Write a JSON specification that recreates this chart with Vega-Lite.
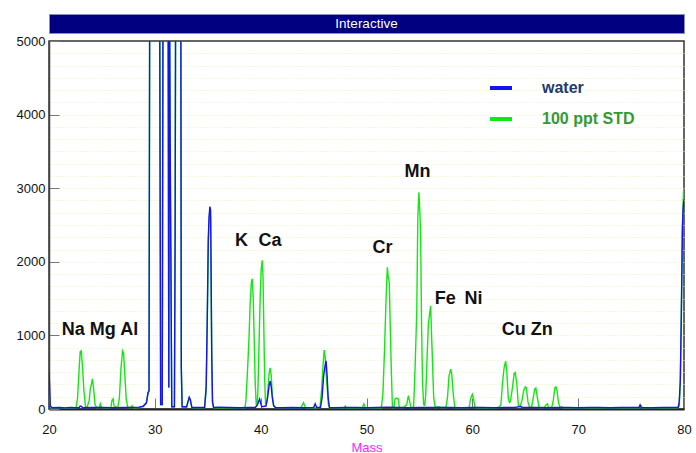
{
  "$schema": "https://vega.github.io/schema/vega-lite/v6.json",
  "padding": {"left": 15, "top": 13, "right": 11, "bottom": 0},
  "background": "white",
  "spacing": 0,
  "resolve": {"legend": {"color": "independent"}},
  "config": {"font": "Liberation Sans", "view": {"stroke": null}},
  "datasets": {
    "water": [
      {"mass":20.0,"intensity":490},{"mass":20.05,"intensity":350},{"mass":20.12,"intensity":40},{"mass":20.3,"intensity":18},{"mass":21.0,"intensity":20},{"mass":21.5,"intensity":15},{"mass":22.0,"intensity":20},{"mass":22.5,"intensity":18},{"mass":22.85,"intensity":20},{"mass":22.95,"intensity":40},{"mass":23.05,"intensity":35},{"mass":23.2,"intensity":18},{"mass":24.0,"intensity":20},{"mass":25.0,"intensity":22},{"mass":26.0,"intensity":18},{"mass":27.0,"intensity":20},{"mass":28.0,"intensity":22},{"mass":28.5,"intensity":25},{"mass":28.9,"intensity":40},{"mass":29.2,"intensity":80},{"mass":29.35,"intensity":220},{"mass":29.45,"intensity":250},{"mass":29.52,"intensity":6000},{"mass":30.45,"intensity":6000},{"mass":30.55,"intensity":60},{"mass":30.7,"intensity":60},{"mass":30.78,"intensity":6000},{"mass":31.25,"intensity":6000},{"mass":31.32,"intensity":290},{"mass":31.38,"intensity":6000},{"mass":31.45,"intensity":3600},{"mass":31.6,"intensity":30},{"mass":31.85,"intensity":30},{"mass":31.92,"intensity":2500},{"mass":31.97,"intensity":6000},{"mass":32.45,"intensity":6000},{"mass":32.5,"intensity":560},{"mass":32.58,"intensity":30},{"mass":33.0,"intensity":30},{"mass":33.15,"intensity":110},{"mass":33.25,"intensity":160},{"mass":33.35,"intensity":130},{"mass":33.5,"intensity":20},{"mass":34.0,"intensity":20},{"mass":34.7,"intensity":20},{"mass":34.85,"intensity":300},{"mass":34.95,"intensity":1200},{"mass":35.05,"intensity":2300},{"mass":35.12,"intensity":2600},{"mass":35.2,"intensity":2750},{"mass":35.27,"intensity":2700},{"mass":35.32,"intensity":1800},{"mass":35.38,"intensity":700},{"mass":35.45,"intensity":100},{"mass":35.55,"intensity":20},{"mass":36.0,"intensity":25},{"mass":37.0,"intensity":20},{"mass":38.0,"intensity":18},{"mass":39.0,"intensity":20},{"mass":39.5,"intensity":20},{"mass":39.7,"intensity":60},{"mass":39.8,"intensity":100},{"mass":39.9,"intensity":135},{"mass":40.0,"intensity":80},{"mass":40.1,"intensity":30},{"mass":40.5,"intensity":40},{"mass":40.65,"intensity":150},{"mass":40.8,"intensity":320},{"mass":40.9,"intensity":380},{"mass":41.0,"intensity":300},{"mass":41.1,"intensity":150},{"mass":41.25,"intensity":40},{"mass":41.4,"intensity":20},{"mass":42.0,"intensity":18},{"mass":43.0,"intensity":20},{"mass":44.0,"intensity":18},{"mass":45.0,"intensity":20},{"mass":45.15,"intensity":70},{"mass":45.3,"intensity":20},{"mass":45.65,"intensity":20},{"mass":45.8,"intensity":150},{"mass":45.95,"intensity":450},{"mass":46.1,"intensity":600},{"mass":46.18,"intensity":655},{"mass":46.28,"intensity":450},{"mass":46.38,"intensity":150},{"mass":46.5,"intensity":20},{"mass":47.0,"intensity":18},{"mass":48.0,"intensity":20},{"mass":49.0,"intensity":20},{"mass":50.0,"intensity":18},{"mass":51.0,"intensity":20},{"mass":52.0,"intensity":25},{"mass":53.0,"intensity":20},{"mass":54.0,"intensity":18},{"mass":55.0,"intensity":20},{"mass":56.0,"intensity":22},{"mass":57.0,"intensity":20},{"mass":58.0,"intensity":20},{"mass":59.0,"intensity":18},{"mass":60.0,"intensity":20},{"mass":61.0,"intensity":20},{"mass":62.0,"intensity":18},{"mass":63.0,"intensity":20},{"mass":64.0,"intensity":20},{"mass":64.6,"intensity":35},{"mass":64.7,"intensity":20},{"mass":65.0,"intensity":20},{"mass":66.0,"intensity":20},{"mass":67.0,"intensity":18},{"mass":68.0,"intensity":20},{"mass":69.0,"intensity":20},{"mass":70.0,"intensity":18},{"mass":71.0,"intensity":20},{"mass":72.0,"intensity":20},{"mass":73.0,"intensity":18},{"mass":74.0,"intensity":20},{"mass":75.0,"intensity":20},{"mass":75.75,"intensity":20},{"mass":75.85,"intensity":55},{"mass":75.95,"intensity":20},{"mass":77.0,"intensity":18},{"mass":78.0,"intensity":20},{"mass":79.0,"intensity":20},{"mass":79.45,"intensity":20},{"mass":79.55,"intensity":100},{"mass":79.65,"intensity":380},{"mass":79.75,"intensity":1290},{"mass":79.85,"intensity":2470},{"mass":79.92,"intensity":2740},{"mass":80.0,"intensity":2850}
    ],
    "std": [
      {"mass":20.0,"intensity":330},{"mass":20.1,"intensity":60},{"mass":20.2,"intensity":15},{"mass":21.0,"intensity":15},{"mass":22.0,"intensity":12},{"mass":22.55,"intensity":15},{"mass":22.7,"intensity":150},{"mass":22.85,"intensity":550},{"mass":22.95,"intensity":780},{"mass":23.05,"intensity":790},{"mass":23.15,"intensity":600},{"mass":23.3,"intensity":250},{"mass":23.45,"intensity":30},{"mass":23.6,"intensity":20},{"mass":23.8,"intensity":120},{"mass":23.9,"intensity":270},{"mass":24.0,"intensity":330},{"mass":24.1,"intensity":410},{"mass":24.2,"intensity":300},{"mass":24.35,"intensity":60},{"mass":24.5,"intensity":20},{"mass":24.75,"intensity":20},{"mass":24.85,"intensity":70},{"mass":24.95,"intensity":20},{"mass":25.5,"intensity":15},{"mass":25.85,"intensity":20},{"mass":25.95,"intensity":120},{"mass":26.05,"intensity":140},{"mass":26.15,"intensity":40},{"mass":26.5,"intensity":20},{"mass":26.65,"intensity":150},{"mass":26.8,"intensity":550},{"mass":26.95,"intensity":790},{"mass":27.05,"intensity":760},{"mass":27.15,"intensity":500},{"mass":27.3,"intensity":130},{"mass":27.45,"intensity":20},{"mass":27.75,"intensity":20},{"mass":27.85,"intensity":45},{"mass":27.95,"intensity":15},{"mass":28.5,"intensity":20},{"mass":28.9,"intensity":30},{"mass":29.2,"intensity":90},{"mass":29.35,"intensity":200},{"mass":29.45,"intensity":240},{"mass":29.52,"intensity":6000},{"mass":30.45,"intensity":6000},{"mass":30.55,"intensity":60},{"mass":30.7,"intensity":60},{"mass":30.77,"intensity":6000},{"mass":31.25,"intensity":6000},{"mass":31.32,"intensity":300},{"mass":31.38,"intensity":6000},{"mass":31.45,"intensity":3500},{"mass":31.6,"intensity":30},{"mass":31.85,"intensity":30},{"mass":31.92,"intensity":2400},{"mass":31.97,"intensity":6000},{"mass":32.45,"intensity":6000},{"mass":32.5,"intensity":580},{"mass":32.58,"intensity":30},{"mass":33.0,"intensity":25},{"mass":33.15,"intensity":100},{"mass":33.25,"intensity":150},{"mass":33.35,"intensity":120},{"mass":33.5,"intensity":20},{"mass":34.0,"intensity":15},{"mass":34.7,"intensity":20},{"mass":34.85,"intensity":250},{"mass":34.95,"intensity":1100},{"mass":35.05,"intensity":2250},{"mass":35.12,"intensity":2550},{"mass":35.2,"intensity":2700},{"mass":35.27,"intensity":2600},{"mass":35.32,"intensity":1700},{"mass":35.38,"intensity":650},{"mass":35.45,"intensity":90},{"mass":35.55,"intensity":20},{"mass":36.0,"intensity":15},{"mass":37.0,"intensity":15},{"mass":38.0,"intensity":15},{"mass":38.5,"intensity":15},{"mass":38.6,"intensity":100},{"mass":38.75,"intensity":500},{"mass":38.9,"intensity":970},{"mass":39.0,"intensity":1400},{"mass":39.12,"intensity":1720},{"mass":39.2,"intensity":1770},{"mass":39.3,"intensity":1500},{"mass":39.38,"intensity":1000},{"mass":39.48,"intensity":380},{"mass":39.58,"intensity":60},{"mass":39.68,"intensity":60},{"mass":39.75,"intensity":300},{"mass":39.85,"intensity":900},{"mass":39.95,"intensity":1500},{"mass":40.05,"intensity":1900},{"mass":40.15,"intensity":2020},{"mass":40.22,"intensity":1800},{"mass":40.3,"intensity":1100},{"mass":40.38,"intensity":400},{"mass":40.46,"intensity":60},{"mass":40.6,"intensity":100},{"mass":40.7,"intensity":300},{"mass":40.8,"intensity":480},{"mass":40.9,"intensity":560},{"mass":41.0,"intensity":450},{"mass":41.1,"intensity":200},{"mass":41.2,"intensity":50},{"mass":41.4,"intensity":20},{"mass":42.0,"intensity":15},{"mass":43.0,"intensity":15},{"mass":43.8,"intensity":15},{"mass":44.05,"intensity":85},{"mass":44.25,"intensity":15},{"mass":45.0,"intensity":15},{"mass":45.6,"intensity":20},{"mass":45.75,"intensity":250},{"mass":45.9,"intensity":600},{"mass":46.0,"intensity":800},{"mass":46.1,"intensity":700},{"mass":46.25,"intensity":350},{"mass":46.4,"intensity":60},{"mass":46.5,"intensity":20},{"mass":47.0,"intensity":15},{"mass":47.9,"intensity":15},{"mass":48.0,"intensity":40},{"mass":48.1,"intensity":15},{"mass":49.0,"intensity":15},{"mass":49.6,"intensity":15},{"mass":49.75,"intensity":70},{"mass":49.9,"intensity":15},{"mass":50.5,"intensity":15},{"mass":51.0,"intensity":15},{"mass":51.4,"intensity":15},{"mass":51.55,"intensity":200},{"mass":51.7,"intensity":790},{"mass":51.85,"intensity":1500},{"mass":51.97,"intensity":1925},{"mass":52.05,"intensity":1800},{"mass":52.15,"intensity":1720},{"mass":52.25,"intensity":1100},{"mass":52.35,"intensity":500},{"mass":52.45,"intensity":20},{"mass":52.6,"intensity":20},{"mass":52.7,"intensity":140},{"mass":52.85,"intensity":145},{"mass":53.0,"intensity":140},{"mass":53.1,"intensity":20},{"mass":53.5,"intensity":20},{"mass":53.8,"intensity":60},{"mass":53.95,"intensity":180},{"mass":54.05,"intensity":120},{"mass":54.2,"intensity":20},{"mass":54.45,"intensity":20},{"mass":54.6,"intensity":600},{"mass":54.75,"intensity":1335},{"mass":54.85,"intensity":2605},{"mass":54.95,"intensity":2945},{"mass":55.05,"intensity":2650},{"mass":55.12,"intensity":2333},{"mass":55.2,"intensity":1150},{"mass":55.3,"intensity":336},{"mass":55.4,"intensity":58},{"mass":55.5,"intensity":50},{"mass":55.6,"intensity":200},{"mass":55.7,"intensity":608},{"mass":55.85,"intensity":1153},{"mass":55.97,"intensity":1300},{"mass":56.06,"intensity":1403},{"mass":56.15,"intensity":1000},{"mass":56.2,"intensity":790},{"mass":56.35,"intensity":154},{"mass":56.5,"intensity":20},{"mass":56.8,"intensity":30},{"mass":57.0,"intensity":20},{"mass":57.5,"intensity":20},{"mass":57.65,"intensity":150},{"mass":57.8,"intensity":450},{"mass":57.95,"intensity":540},{"mass":58.05,"intensity":480},{"mass":58.2,"intensity":200},{"mass":58.35,"intensity":20},{"mass":59.0,"intensity":15},{"mass":59.7,"intensity":20},{"mass":59.85,"intensity":150},{"mass":60.0,"intensity":200},{"mass":60.1,"intensity":150},{"mass":60.25,"intensity":20},{"mass":61.0,"intensity":15},{"mass":62.0,"intensity":15},{"mass":62.5,"intensity":20},{"mass":62.7,"intensity":60},{"mass":62.85,"intensity":350},{"mass":63.0,"intensity":560},{"mass":63.15,"intensity":650},{"mass":63.25,"intensity":520},{"mass":63.4,"intensity":150},{"mass":63.5,"intensity":90},{"mass":63.6,"intensity":100},{"mass":63.8,"intensity":300},{"mass":63.95,"intensity":480},{"mass":64.05,"intensity":495},{"mass":64.2,"intensity":350},{"mass":64.35,"intensity":50},{"mass":64.5,"intensity":30},{"mass":64.7,"intensity":120},{"mass":64.85,"intensity":250},{"mass":65.0,"intensity":300},{"mass":65.1,"intensity":290},{"mass":65.25,"intensity":100},{"mass":65.4,"intensity":25},{"mass":65.6,"intensity":25},{"mass":65.75,"intensity":150},{"mass":65.9,"intensity":270},{"mass":66.0,"intensity":285},{"mass":66.15,"intensity":150},{"mass":66.3,"intensity":20},{"mass":66.8,"intensity":20},{"mass":67.0,"intensity":60},{"mass":67.1,"intensity":70},{"mass":67.2,"intensity":20},{"mass":67.5,"intensity":20},{"mass":67.65,"intensity":120},{"mass":67.8,"intensity":290},{"mass":67.9,"intensity":300},{"mass":68.0,"intensity":250},{"mass":68.15,"intensity":80},{"mass":68.3,"intensity":20},{"mass":68.45,"intensity":30},{"mass":68.6,"intensity":15},{"mass":70.0,"intensity":15},{"mass":72.0,"intensity":15},{"mass":74.0,"intensity":15},{"mass":75.8,"intensity":15},{"mass":75.95,"intensity":40},{"mass":76.05,"intensity":15},{"mass":78.0,"intensity":15},{"mass":79.4,"intensity":15},{"mass":79.55,"intensity":40},{"mass":79.65,"intensity":350},{"mass":79.75,"intensity":1300},{"mass":79.85,"intensity":2400},{"mass":79.95,"intensity":2950},{"mass":80.0,"intensity":3010}
    ],
    "labels": [
      {"mass":24.82,"intensity":1068,"label":"Na Mg Al"},
      {"mass":38.2,"intensity":2278,"label":"K"},
      {"mass":40.89,"intensity":2278,"label":"Ca"},
      {"mass":51.52,"intensity":2183,"label":"Cr"},
      {"mass":54.83,"intensity":3216,"label":"Mn"},
      {"mass":57.43,"intensity":1490,"label":"Fe"},
      {"mass":60.12,"intensity":1490,"label":"Ni"},
      {"mass":65.18,"intensity":1068,"label":"Cu Zn"}
    ]
  },
  "vconcat": [
    {
      "width": 635,
      "height": 19,
      "view": {"fill": "#000080", "stroke": "#8c8ccc", "strokeWidth": 1},
      "data": {"values": [{"t": "Interactive"}]},
      "mark": {"type": "text", "color": "white", "fontSize": 13.5, "font": "Liberation Sans"},
      "encoding": {"text": {"field": "t"}}
    },
    {
      "width": 635,
      "height": 368,
      "view": {"stroke": "#333333", "strokeWidth": 1.5},
      "resolve": {"axis": {"y": "independent"}},
      "layer": [
        {
          "data": {"name": "std"},
          "mark": {"type": "line", "clip": true, "strokeWidth": 1.4},
          "encoding": {
            "x": {
              "field": "mass", "type": "quantitative",
              "scale": {"domain": [20, 80], "nice": false, "zero": false},
              "axis": {
                "values": [20,30,40,50,60,70,80],
                "tickSize": -11,
                "tickColor": "#777777",
                "domainColor": "#222222",
                "domainWidth": 2,
                "labelFontSize": 13,
                "labelColor": "#111111",
                "labelPadding": 25,
                "labelOverlap": false,
                "labelFlush": false,
                "grid": false,
                "title": "Mass",
                "titleColor": "#ff22ff",
                "titleFontSize": 13,
                "titleFontWeight": "normal",
                "titlePadding": 5
              }
            },
            "y": {
              "field": "intensity", "type": "quantitative",
              "scale": {"domain": [0, 5000], "nice": false},
              "axis": {
                "values": [0,1000,2000,3000,4000,5000],
                "format": "d",
                "tickSize": -10,
                "tickColor": "#777777",
                "domainColor": "#444444",
                "domainWidth": 1.5,
                "labelFontSize": 13,
                "labelColor": "#111111",
                "labelPadding": 14,
                "labelOverlap": false,
                "labelFlush": false,
                "title": null,
                "grid": false
              }
            },
            "color": {
              "datum": "100 ppt STD", "type": "nominal",
              "scale": {"domain": ["water", "100 ppt STD"], "range": ["#1414f0", "#14e614"]},
              "legend": {
                "orient": "none", "legendX": 439, "legendY": 34,
                "title": null,
                "symbolType": "stroke", "symbolSize": 484, "symbolStrokeWidth": 4,
                "labelFontSize": 16, "labelFontWeight": "bold", "labelOffset": 28,
                "rowPadding": 10, "padding": 0,
                "encode": {
                  "labels": {"update": {"fill": {"signal": "datum.label === 'water' ? '#1f3a6b' : '#339933'"}}},
                  "symbols": {"update": {"stroke": {"signal": "datum.label === 'water' ? '#3a3aa8' : '#33a033'"}}}
                }
              }
            }
          }
        },
        {
          "data": {"name": "water"},
          "mark": {"type": "line", "clip": true, "strokeWidth": 1.4},
          "encoding": {
            "x": {"field": "mass", "type": "quantitative", "scale": {"domain": [20, 80], "nice": false, "zero": false}},
            "y": {
              "field": "intensity", "type": "quantitative", "scale": {"domain": [0, 5000], "nice": false},
              "axis": {
                "orient": "right", "labels": false, "ticks": false, "domain": false, "title": null,
                "minExtent": 0, "maxExtent": 0, "zindex": 0,
                "grid": true, "gridColor": "#eeeeb4", "gridDash": [1, 2], "gridWidth": 1,
                "values": [167,333,500,667,833,1000,1167,1333,1500,1667,1833,2000,2167,2333,2500,2667,2833,3000,3167,3333,3500,3667,3833,4000,4167,4333,4500,4667,4833]
              }
            },
            "color": {"datum": "water", "type": "nominal"}
          }
        },
        {
          "data": {"name": "labels"},
          "mark": {"type": "text", "fontSize": 18, "fontWeight": "bold", "color": "#111111", "font": "Liberation Sans"},
          "encoding": {
            "x": {"field": "mass", "type": "quantitative", "scale": {"domain": [20, 80], "nice": false, "zero": false}},
            "y": {"field": "intensity", "type": "quantitative", "scale": {"domain": [0, 5000], "nice": false}, "axis": null},
            "text": {"field": "label"}
          }
        }
      ]
    }
  ]
}
